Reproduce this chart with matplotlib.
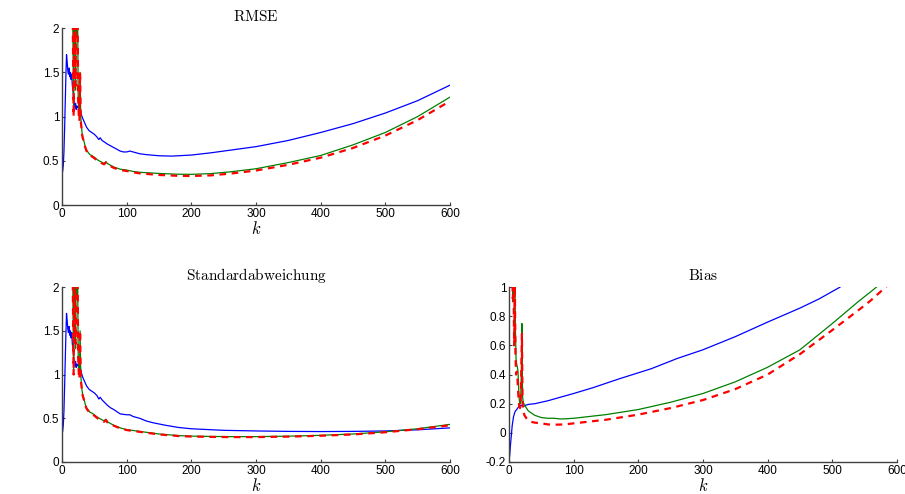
import numpy as np
import matplotlib
matplotlib.use("Agg")
import matplotlib.pyplot as plt

plt.rcParams['font.family'] = ['Liberation Sans', 'DejaVu Sans']
plt.rcParams['mathtext.fontset'] = 'cm'

# ---- RMSE ----
k_rmse_blue = [1, 2, 3, 4, 5, 6, 7, 8, 9, 10, 11, 12, 13, 14, 15, 16, 17, 18, 19, 20,
               21, 22, 23, 24, 25, 26, 27, 28, 29, 30, 32, 35, 38, 42, 46, 50, 54, 57,
               59, 62, 66, 70, 75, 80, 85, 90, 95, 100, 105, 110, 120, 130, 150, 170,
               200, 230, 260, 300, 350, 400, 450, 500, 550, 600]
rmse_blue = [0.38, 0.45, 0.6, 0.85, 1.15, 1.45, 1.7, 1.62, 1.52, 1.48, 1.55, 1.45, 1.5,
             1.42, 1.48, 1.35, 1.3, 1.2, 1.15, 1.1, 1.15, 1.08, 1.12, 1.1, 1.1, 1.15,
             1.18, 1.1, 1.05, 1.02, 0.98, 0.93, 0.88, 0.84, 0.82, 0.8, 0.77, 0.74, 0.76,
             0.73, 0.71, 0.69, 0.67, 0.65, 0.63, 0.61, 0.6, 0.6, 0.61, 0.6, 0.58, 0.57,
             0.557, 0.553, 0.565, 0.59, 0.62, 0.66, 0.73, 0.82, 0.92, 1.04, 1.18, 1.355]

k_gr = [16, 18, 19, 20, 21, 22, 23, 24, 25, 26, 27, 28, 29, 30, 31, 32, 34, 36, 38, 40,
        43, 46, 50, 55, 60, 65, 68, 70, 75, 80, 90, 100, 110, 120, 150, 180, 200, 230,
        260, 300, 350, 400, 450, 500, 550, 600]
rmse_green = [2.6, 1.05, 2.5, 2.3, 1.3, 2.6, 1.9, 2.4, 1.25, 1.05, 1.0, 1.5, 1.0, 0.9,
              0.82, 0.77, 0.72, 0.66, 0.62, 0.6, 0.57, 0.56, 0.54, 0.51, 0.49, 0.47,
              0.49, 0.47, 0.45, 0.43, 0.405, 0.395, 0.38, 0.37, 0.357, 0.348, 0.347,
              0.355, 0.375, 0.41, 0.48, 0.56, 0.68, 0.82, 1.0, 1.22]
rmse_red = [2.6, 1.0, 2.5, 2.2, 1.35, 2.6, 2.0, 2.4, 1.2, 1.0, 0.95, 1.5, 0.95, 0.88,
            0.8, 0.76, 0.71, 0.65, 0.61, 0.59, 0.56, 0.55, 0.53, 0.5, 0.48, 0.46, 0.48,
            0.46, 0.44, 0.42, 0.395, 0.385, 0.37, 0.358, 0.34, 0.33, 0.328, 0.335,
            0.355, 0.39, 0.455, 0.535, 0.645, 0.785, 0.96, 1.175]

# ---- Standardabweichung ----
k_std_blue = [1, 2, 3, 4, 5, 6, 7, 8, 9, 10, 11, 12, 13, 14, 15, 16, 17, 18, 19, 20,
              21, 22, 23, 24, 25, 26, 27, 28, 29, 30, 32, 35, 38, 42, 46, 50, 54, 57,
              59, 62, 66, 70, 75, 80, 90, 100, 105, 110, 120, 130, 140, 160, 180, 200,
              250, 300, 350, 400, 450, 500, 550, 600]
std_blue = [0.35, 0.42, 0.58, 0.85, 1.15, 1.45, 1.7, 1.62, 1.52, 1.48, 1.55, 1.45, 1.5,
            1.42, 1.48, 1.35, 1.3, 1.2, 1.15, 1.1, 1.15, 1.08, 1.12, 1.1, 1.1, 1.15, 1.18,
            1.1, 1.05, 1.02, 0.97, 0.92, 0.87, 0.83, 0.81, 0.79, 0.76, 0.72, 0.74, 0.71,
            0.68, 0.65, 0.62, 0.6, 0.55, 0.54, 0.54, 0.52, 0.5, 0.47, 0.45, 0.42, 0.395,
            0.38, 0.362, 0.355, 0.35, 0.348, 0.35, 0.355, 0.368, 0.39]

std_green = [2.6, 1.05, 2.5, 2.3, 1.3, 2.6, 1.9, 2.4, 1.25, 1.05, 1.0, 1.5, 1.0, 0.9,
             0.82, 0.77, 0.72, 0.66, 0.62, 0.6, 0.57, 0.56, 0.54, 0.51, 0.49, 0.47, 0.49,
             0.46, 0.44, 0.42, 0.39, 0.37, 0.36, 0.35, 0.32, 0.302, 0.296, 0.292, 0.29,
             0.29, 0.295, 0.305, 0.32, 0.345, 0.38, 0.43]
std_red = [2.6, 1.0, 2.5, 2.2, 1.35, 2.6, 2.0, 2.4, 1.2, 1.0, 0.95, 1.5, 0.95, 0.88, 0.8,
           0.76, 0.71, 0.65, 0.61, 0.59, 0.56, 0.55, 0.53, 0.5, 0.48, 0.46, 0.48, 0.455,
           0.435, 0.415, 0.385, 0.365, 0.355, 0.345, 0.315, 0.297, 0.291, 0.287, 0.285,
           0.285, 0.29, 0.3, 0.315, 0.34, 0.375, 0.42]

# ---- Bias ----
k_bias_blue = [1, 2, 3, 4, 5, 6, 7, 8, 9, 10, 12, 15, 18, 20, 22, 26, 30, 40, 50, 60,
               80, 100, 130, 170, 220, 260, 300, 350, 400, 450, 480, 512]
bias_blue = [-0.16, -0.1, -0.05, 0.0, 0.05, 0.08, 0.11, 0.125, 0.14, 0.15, 0.16, 0.18,
             0.19, 0.185, 0.18, 0.19, 0.195, 0.2, 0.21, 0.22, 0.245, 0.27, 0.31, 0.37,
             0.44, 0.51, 0.57, 0.66, 0.76, 0.856, 0.92, 1.0]

k_bias_gr = [5, 6, 7, 8, 9, 10, 11, 12, 13, 14, 15, 16, 17, 18, 19, 20, 21, 22, 24, 27,
             30, 35, 40, 50, 60, 70, 80, 90, 100, 150, 200, 250, 300, 350, 400, 450, 500,
             540, 560, 590]
bias_green = [1.1, 0.9, 1.05, 0.95, 1.1, 0.7, 0.5, 0.47, 0.45, 0.42, 0.3, 0.22, 0.2,
              0.21, 0.4, 0.75, 0.25, 0.21, 0.19, 0.17, 0.15, 0.135, 0.12, 0.105, 0.1,
              0.1, 0.095, 0.097, 0.1, 0.125, 0.16, 0.21, 0.27, 0.35, 0.45, 0.57, 0.75,
              0.9, 0.97, 1.08]
bias_red = [1.1, 0.92, 1.05, 0.6, 1.05, 0.55, 0.4, 0.42, 0.38, 0.3, 0.22, 0.18, 0.17,
            0.2, 0.4, 0.68, 0.2, 0.15, 0.12, 0.1, 0.085, 0.075, 0.07, 0.065, 0.058,
            0.056, 0.057, 0.06, 0.065, 0.09, 0.125, 0.17, 0.225, 0.3, 0.4, 0.54, 0.705,
            0.84, 0.91, 1.03]

BLUE = (0, 0, 1)
GREEN = (0, 0.5, 0)
RED = (1, 0, 0)


def style_axes(ax, title, ylim, yticks):
    ax.set_xlim(0, 600)
    ax.set_ylim(*ylim)
    ax.set_xticks(range(0, 601, 100))
    ax.set_yticks(yticks)
    ax.set_yticklabels([f"{t:g}" for t in yticks])
    for s in ['top', 'right']:
        ax.spines[s].set_visible(False)
    for s in ['left', 'bottom']:
        ax.spines[s].set_linewidth(1.0)
        ax.spines[s].set_color('#404040')
    ax.tick_params(direction='in', length=2.5, width=0.8, labelsize=8.5, pad=2,
                   colors='#404040', labelcolor='black')
    ax.set_title(r'$\mathrm{' + title + '}$', fontsize=11, pad=5)
    ax.set_xlabel(r'$k$', fontsize=12, labelpad=0.5)


fig = plt.figure(figsize=(9.05, 4.94), dpi=100)
ax1 = fig.add_axes([0.0685, 0.585, 0.4287, 0.358])
ax2 = fig.add_axes([0.0685, 0.0648, 0.4287, 0.354])
ax3 = fig.add_axes([0.5624, 0.0648, 0.4287, 0.354])

ax1.plot(k_rmse_blue, rmse_blue, color=BLUE, lw=0.9)
ax1.plot(k_gr, rmse_green, color=GREEN, lw=0.9)
ax1.plot(k_gr, rmse_red, color=RED, lw=1.6, ls=(0, (3, 2.5)))
style_axes(ax1, 'RMSE', (0, 2), [0, 0.5, 1, 1.5, 2])

ax2.plot(k_std_blue, std_blue, color=BLUE, lw=0.9)
ax2.plot(k_gr, std_green, color=GREEN, lw=0.9)
ax2.plot(k_gr, std_red, color=RED, lw=1.6, ls=(0, (3, 2.5)))
style_axes(ax2, 'Standardabweichung', (0, 2), [0, 0.5, 1, 1.5, 2])

ax3.plot(k_bias_blue, bias_blue, color=BLUE, lw=0.9)
ax3.plot(k_bias_gr, bias_green, color=GREEN, lw=0.9)
ax3.plot(k_bias_gr, bias_red, color=RED, lw=1.6, ls=(0, (3, 2.5)))
style_axes(ax3, 'Bias', (-0.2, 1), [-0.2, 0, 0.2, 0.4, 0.6, 0.8, 1])

fig.savefig("out.png", dpi=100)
